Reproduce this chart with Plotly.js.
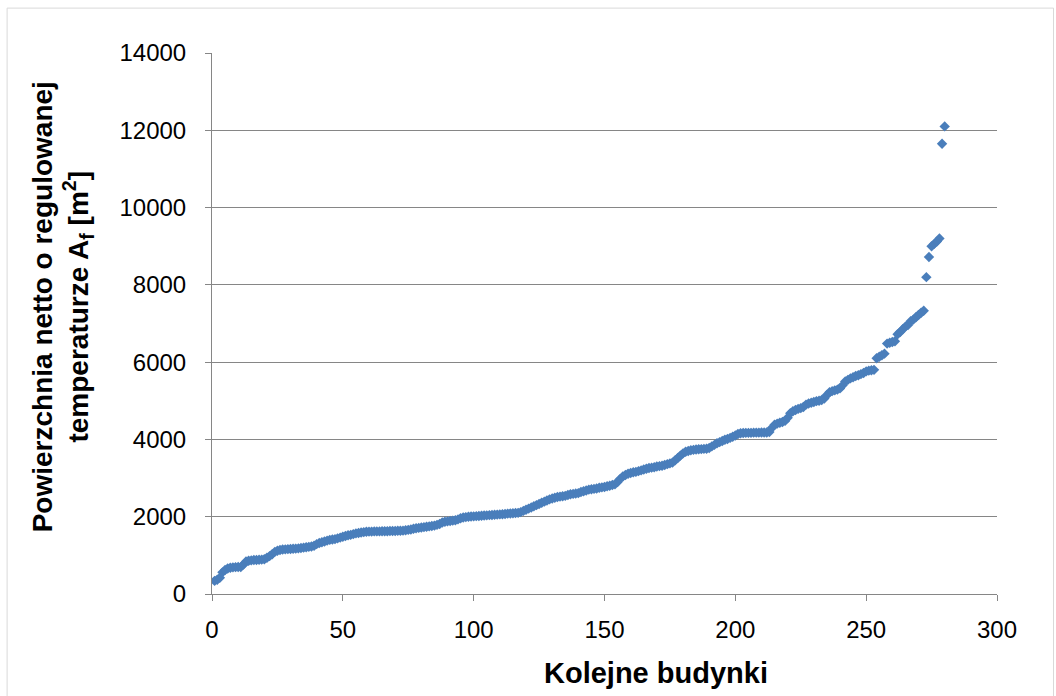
<!DOCTYPE html>
<html>
<head>
<meta charset="utf-8">
<script src="https://cdn.plot.ly/plotly-3.0.1.min.js"></script>
<style>
html,body{margin:0;padding:0;background:#fff;}
#chart{width:1056px;height:696px;}
</style>
</head>
<body>
<div id="chart"></div>
<script>
// Powierzchnia netto o regulowanej temperaturze, kolejne budynki 1..280 (sorted)
var area_1_40 = [340,370,420,560,620,660,680,690,695,700,700,760,840,860,870,880,880,885,890,900,
                 940,980,1030,1090,1120,1140,1150,1155,1160,1165,1170,1175,1180,1190,1200,1210,1220,1230,1250,1290];
var area_41_80 = [1320,1340,1360,1380,1400,1410,1420,1440,1460,1480,1500,1520,1530,1550,1570,1580,1590,1600,1610,1615,
                  1615,1620,1620,1620,1625,1625,1625,1630,1630,1630,1635,1635,1640,1650,1660,1670,1690,1700,1710,1720];
var area_81_120 = [1730,1740,1750,1760,1770,1790,1810,1850,1870,1880,1890,1900,1910,1930,1960,1980,1990,2000,2005,2010,
                   2015,2020,2025,2030,2035,2040,2045,2050,2055,2060,2065,2070,2080,2085,2090,2095,2100,2120,2150,2180];
var area_121_160 = [2210,2240,2270,2300,2330,2360,2390,2420,2450,2470,2490,2510,2520,2530,2540,2560,2580,2590,2600,2610,
                    2640,2660,2680,2700,2710,2720,2730,2750,2760,2770,2790,2800,2820,2840,2900,2980,3040,3080,3110,3130];
var area_161_200 = [3150,3160,3180,3200,3220,3240,3260,3270,3280,3300,3310,3320,3340,3360,3380,3400,3460,3520,3580,3640,
                    3680,3700,3720,3730,3740,3745,3750,3755,3760,3780,3820,3860,3900,3930,3960,3990,4010,4040,4070,4100];
var area_201_240 = [4140,4160,4165,4170,4170,4170,4175,4175,4175,4180,4180,4180,4190,4300,4380,4410,4430,4450,4480,4560,
                    4680,4730,4760,4790,4810,4840,4900,4930,4950,4970,4990,5000,5020,5060,5150,5220,5250,5270,5290,5320];
var area_241_280 = [5400,5500,5540,5580,5610,5640,5660,5690,5720,5760,5780,5790,5800,6100,6140,6180,6220,6480,6500,6520,
                    6540,6720,6780,6850,6920,6960,7060,7100,7160,7220,7280,7330,8200,8720,9000,9060,9120,9200,11650,12100];

var area = [].concat(area_1_40, area_41_80, area_81_120, area_121_160, area_161_200, area_201_240, area_241_280);
var buildings = area.map(function(v, i){ return i + 1; });

var xTicks = [0,50,100,150,200,250,300];
var yTicks = [0,2000,4000,6000,8000,10000,12000,14000];
var xTitle = '<b>Kolejne budynki</b>';
var yTitle = '<b>Powierzchnia netto o regulowanej<br>temperaturze A<sub>f</sub> [m<sup>2</sup>]</b>';

var trace = {
  x: buildings,
  y: area,
  type: 'scatter',
  mode: 'markers',
  marker: {symbol: 'diamond', size: 8, color: '#4A7EBB', line: {width: 0}},
  hoverinfo: 'x+y'
};

var ff = 'Liberation Sans, Arial, sans-serif';
var tickFont = {family: ff, size: 24, color: '#000'};

var layout = {
  width: 1056, height: 696,
  margin: {l: 212, r: 59, t: 53, b: 102},
  paper_bgcolor: '#fff', plot_bgcolor: '#fff',
  font: tickFont,
  showlegend: false,
  xaxis: {
    range: [0, 300], tickvals: xTicks, ticktext: xTicks.map(String),
    showgrid: false, zeroline: false,
    showline: true, linecolor: '#868686', linewidth: 1,
    ticks: 'outside', ticklen: 6, tickcolor: '#868686',
    ticklabelstandoff: 8,
    tickfont: tickFont
  },
  yaxis: {
    range: [0, 14000], tickvals: yTicks, ticktext: yTicks.map(String),
    showgrid: true, gridcolor: '#868686', gridwidth: 1,
    zeroline: false,
    showline: true, linecolor: '#868686', linewidth: 1,
    ticks: 'outside', ticklen: 6, tickcolor: '#868686',
    ticklabelstandoff: 14,
    tickfont: tickFont
  },
  annotations: [
    {text: xTitle, xref: 'paper', yref: 'paper', x: 0.566, y: -0.146,
     xanchor: 'center', yanchor: 'middle', showarrow: false,
     font: {family: ff, size: 29, color: '#000'}},
    {text: yTitle, xref: 'paper', yref: 'paper', x: -0.191, y: 0.530,
     xanchor: 'center', yanchor: 'middle', showarrow: false, textangle: -90,
     font: {family: ff, size: 28, color: '#000'}}
  ],
  shapes: [{
    type: 'rect', xref: 'paper', yref: 'paper',
    x0: -0.261, x1: 1.072, y0: -0.2, y1: 1.083,
    line: {color: '#D9D9D9', width: 1}, fillcolor: 'rgba(0,0,0,0)', layer: 'below'
  }]
};

Plotly.newPlot('chart', [trace], layout, {displayModeBar: false, staticPlot: true});
</script>
</body>
</html>
